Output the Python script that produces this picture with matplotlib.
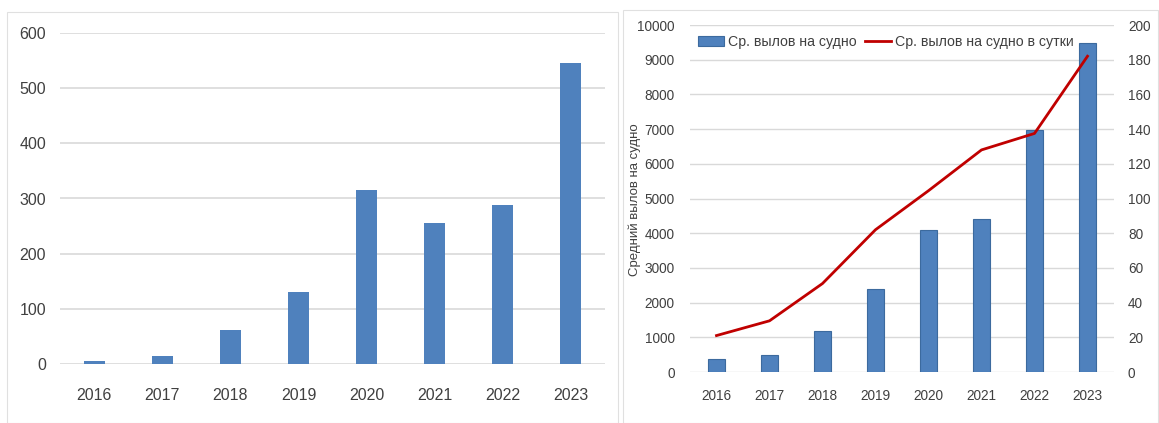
import matplotlib.pyplot as plt
from matplotlib.patches import Rectangle

years = ['2016', '2017', '2018', '2019', '2020', '2021', '2022', '2023']
left_values = [6, 15, 62, 130, 315, 256, 288, 545]
catch_per_vessel = [380, 490, 1170, 2380, 4100, 4410, 6980, 9490]
catch_per_day = [21, 29.5, 51, 82, 104.5, 128, 137.5, 182]

blue = '#4F81BD'
red = '#C00000'
grid = '#D9D9D9'
txt = '#404040'

plt.rcParams['font.family'] = ['Liberation Sans', 'DejaVu Sans']

W, H = 1159, 423
fig = plt.figure(figsize=(W / 100, H / 100), dpi=100)
fig.patch.set_facecolor('white')

# chart area frames
for x0, y0, x1, y1 in [(7, 12, 618, 423), (623, 10, 1158, 423)]:
    fig.add_artist(Rectangle((x0 / W, 1 - y1 / H), (x1 - x0) / W, (y1 - y0) / H,
                             transform=fig.transFigure, fill=False,
                             edgecolor='#E0E0E0', linewidth=0.8))

x = range(len(years))

# left panel
ax1 = fig.add_axes([60 / W, 1 - 364 / H, (605 - 60) / W, (364 - 33) / H])
ax1.bar(x, left_values, width=0.31, color=blue, zorder=3)
ax1.set_xlim(-0.5, 7.5)
ax1.set_ylim(0, 600)
ax1.set_yticks(range(0, 601, 100))
ax1.set_xticks(list(x))
ax1.set_xticklabels(years)
ax1.grid(axis='y', color=grid, linewidth=1.2, zorder=0)
for s in ax1.spines.values():
    s.set_visible(False)
ax1.tick_params(length=0, colors=txt, labelsize=11.5)
ax1.tick_params(axis='x', pad=17)
ax1.tick_params(axis='y', pad=10)

# right panel
ax2 = fig.add_axes([690 / W, 1 - 372 / H, (1114 - 690) / W, (372 - 25) / H])
ax2.bar(x, catch_per_vessel, width=0.32, color=blue, edgecolor='#3C6A9E',
        linewidth=0.8, zorder=3, label='Ср. вылов на судно')
ax2.set_xlim(-0.5, 7.5)
ax2.set_ylim(0, 10000)
ax2.set_yticks(range(0, 10001, 1000))
ax2.set_xticks(list(x))
ax2.set_xticklabels(years)
ax2.grid(axis='y', color=grid, linewidth=1.0, zorder=0)
for s in ax2.spines.values():
    s.set_visible(False)
ax2.tick_params(length=0, colors=txt, labelsize=9.8)
ax2.tick_params(axis='x', pad=12)
ax2.tick_params(axis='y', pad=11)
ax2.set_ylabel('Средний вылов на судно', color=txt, fontsize=9.5)
ax2.yaxis.set_label_coords(-0.115, 0.496)

ax3 = ax2.twinx()
ax3.plot(x, catch_per_day, color=red, linewidth=2, label='Ср. вылов на судно в сутки')
ax3.set_ylim(0, 200)
ax3.set_yticks(range(0, 201, 20))
for s in ax3.spines.values():
    s.set_visible(False)
ax3.tick_params(length=0, colors=txt, labelsize=9.8, pad=10)

h1, l1 = ax2.get_legend_handles_labels()
h2, l2 = ax3.get_legend_handles_labels()
ax3.legend(h1 + h2, l1 + l2, loc='center left', bbox_to_anchor=(0.02, (372 - 42) / 347),
           ncol=2, frameon=False, fontsize=10.2, handlelength=1.8,
           handletextpad=0.3, columnspacing=0.6, labelcolor=txt,
           borderaxespad=0, borderpad=0)

fig.savefig('out.png', dpi=100, facecolor='white')
